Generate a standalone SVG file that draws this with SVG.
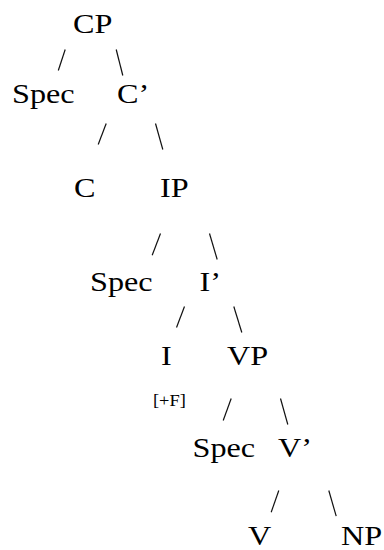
<svg xmlns="http://www.w3.org/2000/svg" width="384" height="550" viewBox="0 0 384 550">
<style>
.n{font-family:"Liberation Serif","Times New Roman",serif;font-size:28px;fill:#000}
.f{font-family:"Liberation Serif","Times New Roman",serif;font-size:16px;fill:#000}
.c line{stroke:#111;stroke-width:1.2;stroke-linecap:butt}
</style>
<rect width="384" height="550" fill="#fff"/>
<g id="CP"><text class="n" transform="translate(73,33) scale(1.15,1)">CP</text></g>
<g id="SpecC"><text class="n" transform="translate(12,103) scale(1.15,1)">Spec</text></g>
<g id="Cbar"><text class="n" transform="translate(117,103) scale(1.15,1)">C’</text></g>
<g id="C"><text class="n" transform="translate(74,197) scale(1.15,1)">C</text></g>
<g id="IP"><text class="n" transform="translate(160,197) scale(1.15,1)">IP</text></g>
<g id="SpecI"><text class="n" transform="translate(90,291) scale(1.15,1)">Spec</text></g>
<g id="Ibar"><text class="n" transform="translate(199.5,291) scale(1.15,1)">I’</text></g>
<g id="I"><text class="n" transform="translate(161,365) scale(1.15,1)">I</text><text class="f" transform="translate(153,405.5) scale(1.15,1)">[+F]</text></g>
<g id="VP"><text class="n" transform="translate(227,365) scale(1.15,1)">VP</text></g>
<g id="SpecV"><text class="n" transform="translate(192.5,456.5) scale(1.15,1)">Spec</text></g>
<g id="Vbar"><text class="n" transform="translate(278,456.5) scale(1.15,1)">V’</text></g>
<g id="V"><text class="n" transform="translate(248,545) scale(1.15,1)">V</text></g>
<g id="NP"><text class="n" transform="translate(341,545) scale(1.15,1)">NP</text></g>
<g id="connectors" class="c">
<line x1="58.3" y1="70.5" x2="65.2" y2="49.5"/>
<line x1="116.2" y1="49.5" x2="122.8" y2="75.5"/>
<line x1="98.2" y1="144.5" x2="106.2" y2="123.5"/>
<line x1="155.5" y1="123.5" x2="162.8" y2="149.5"/>
<line x1="152.2" y1="255.2" x2="160.5" y2="233.5"/>
<line x1="209.5" y1="233.5" x2="217.2" y2="259.5"/>
<line x1="176.5" y1="327.5" x2="184.5" y2="306.5"/>
<line x1="233.8" y1="306.5" x2="241.8" y2="332.5"/>
<line x1="223.2" y1="420.5" x2="231.2" y2="398.5"/>
<line x1="280.5" y1="398.5" x2="287.8" y2="424.5"/>
<line x1="271.2" y1="512.2" x2="278.8" y2="490.5"/>
<line x1="328.8" y1="490.5" x2="336.2" y2="516.2"/>
</g>
</svg>
